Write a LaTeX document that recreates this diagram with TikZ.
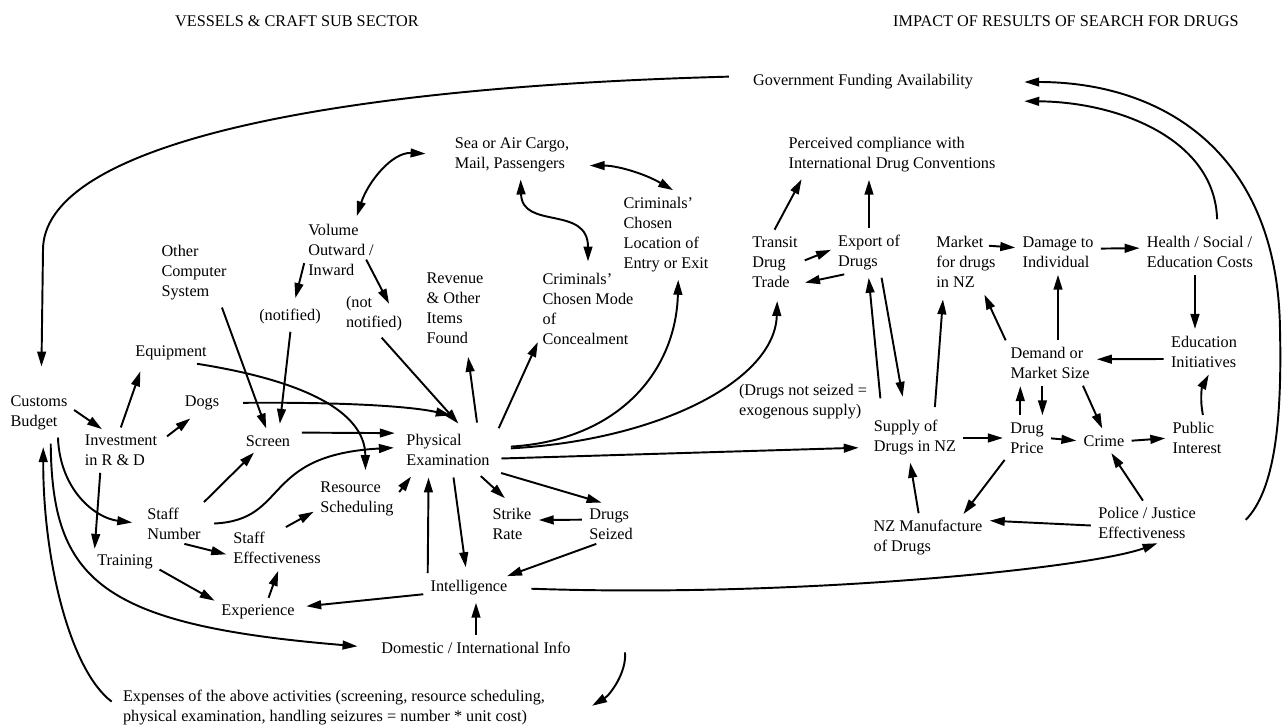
\documentclass[tikz,border=0pt]{standalone}
\usepackage{fontspec}
\setmainfont{Liberation Serif}
\usetikzlibrary{arrows.meta}
\newcommand\diafont{\fontsize{9.25}{11.4}\selectfont}
\tikzset{
    var/.style={align=left, inner sep=1.5pt, font=\diafont},
    arr/.style={-{Triangle[length=8.5pt,width=5pt]}, line width=1.1pt, shorten >=2.5pt, shorten <=2.5pt},
    dbl/.style={arr, {Triangle[length=8.5pt,width=5pt]}-{Triangle[length=8.5pt,width=5pt]}},
}
\begin{document}
\begin{tikzpicture}[x=0.02cm, y=-0.02cm]
    \useasboundingbox (0,0) rectangle (1288,726);
    \node[var] (head1) at (297,21) {VESSELS \& CRAFT SUB SECTOR};
    \node[var] (head2) at (1066,21) {IMPACT OF RESULTS OF SEARCH FOR DRUGS};
    \node[var] (gov) at (863,82) {Government Funding Availability};
    \node[var] (cargo) at (512,155) {Sea or Air Cargo,\\Mail, Passengers};
    \node[var] (perc) at (892,155) {Perceived compliance with\\International Drug Conventions};
    \node[var] (loc) at (666,235) {Criminals'\\Chosen\\Location of\\Entry or Exit};
    \node[var] (vol) at (341,250) {Volume\\Outward /\\Inward};
    \node[var] (other) at (194,273) {Other\\Computer\\System};
    \node[var] (notif) at (290,317) {(notified)};
    \node[var] (notnot) at (374,314) {(not\\notified)};
    \node[var] (rev) at (455,308) {Revenue\\\& Other\\Items\\Found};
    \node[var] (mode) at (588,309) {Criminals'\\Chosen Mode\\of\\Concealment};
    \node[var] (transit) at (775,262) {Transit\\Drug\\Trade};
    \node[var] (export) at (869,253) {Export of\\Drugs};
    \node[var] (market) at (966,262) {Market\\for drugs\\in NZ};
    \node[var] (damage) at (1058,252) {Damage to\\Individual};
    \node[var] (health) at (1200,252) {Health / Social /\\Education Costs};
    \node[var] (educ) at (1204,352) {Education\\Initiatives};
    \node[var] (demand) at (1050,363) {Demand or\\Market Size};
    \node[var] (exog) at (803,402) {(Drugs not seized =\\exogenous supply)};
    \node[var] (supply) at (915,438) {Supply of\\Drugs in NZ};
    \node[var] (price) at (1027,438) {Drug\\Price};
    \node[var] (crime) at (1104,441) {Crime};
    \node[var] (public) at (1197,438) {Public\\Interest};
    \node[var] (police) at (1147,523) {Police / Justice\\Effectiveness};
    \node[var] (manuf) at (928,538) {NZ Manufacture\\of Drugs};
    \node[var] (budget) at (39,413) {Customs\\Budget};
    \node[var] (invest) at (121,450) {Investment\\in R \& D};
    \node[var] (equip) at (171,353) {Equipment};
    \node[var] (dogs) at (202,403) {Dogs};
    \node[var] (screen) at (268,441) {Screen};
    \node[var, inner sep=4pt] (phys) at (448,450) {Physical\\Examination};
    \node[var] (resched) at (357,499) {Resource\\Scheduling};
    \node[var] (staffnum) at (174,524) {Staff\\Number};
    \node[var] (staffeff) at (277,548) {Staff\\Effectiveness};
    \node[var] (training) at (125,562) {Training};
    \node[var] (strike) at (512,524) {Strike\\Rate};
    \node[var] (seized) at (611,524) {Drugs\\Seized};
    \node[var] (intel) at (469,588) {Intelligence};
    \node[var] (exper) at (258,612) {Experience};
    \node[var] (domestic) at (476,648) {Domestic / International Info};
    \node[var] (expenses) at (334,708) {Expenses of the above activities (screening, resource scheduling,\\physical examination, handling seizures = number * unit cost)};

    \draw[arr, shorten <=12pt, shorten >=15pt] (gov.177) .. controls (300,88) and (43,150) .. (43,250) -- (budget.84);
    \draw[arr] (budget.10) -- (invest.130);
    \draw[arr, shorten >=5pt] (invest.95) -- (equip.200);
    \draw[arr, shorten <=5pt, shorten >=5pt] (invest.12) -- (dogs.245);
    \draw[arr] (invest.222) -- (training.164);
    \draw[arr, shorten >=7pt] (budget.313) .. controls (60,490) and (95,518) .. (staffnum.west);
    \draw[arr, shorten <=6pt, shorten >=12pt] (budget.300) .. controls (52,580) and (100,625) .. (domestic.west);
    \draw[arr, shorten <=6pt, shorten >=8pt] (expenses.west) .. controls (70,670) and (43,560) .. (budget.282);
    \draw[arr] (domestic.north) -- (domestic.north |- intel.south);
    \draw[arr] ([xshift=29pt]domestic.east) .. controls (627,672) and (610,695) .. ([xshift=23pt]expenses.east);
    \draw[arr] (training.350) -- (exper.167);
    \draw[arr] (exper.48) -- (staffeff.278);
    \draw[arr, shorten >=5pt] (intel.188) -- (exper.7);
    \draw[arr] (staffnum.288) -- (staffeff.189);
    \draw[arr] (staffnum.35) -- (screen.218);
    \draw[arr, shorten <=6pt, shorten >=3pt] (staffnum.east) .. controls (290,520) and (260,455) .. (phys.177);
    \draw[arr, shorten <=6pt] (screen.20) -- (phys.161);
    \draw[arr] (resched.5) -- (phys.214);
    \draw[arr] (staffeff.75) -- (resched.195);
    \draw[arr, shorten >=5pt] (equip.335) .. controls (300,380) and (365,410) .. (resched.67);
    \draw[arr, shorten <=12pt] (dogs.east) .. controls (340,402) and (410,406) .. ([shift={(4pt,6pt)}]phys.north);
    \draw[arr] (notnot.283) -- (phys.60);
    \draw[arr, shorten >=5pt] (notif.275) -- (screen.38);
    \draw[arr] (other.311) -- (screen.92);
    \draw[arr, shorten >=5pt] (vol.194) -- (notif.73);
    \draw[arr, shorten <=0pt] ([xshift=-6pt]vol.345) -- ([yshift=-8pt]notnot.50);
    \draw[dbl, shorten <=3pt, shorten >=15pt] (vol.64) .. controls (368,182) and (392,152) .. (cargo.west);
    \draw[dbl, shorten <=10pt, shorten >=5pt] (cargo.350) to[bend left=15] (loc.70);
    \draw[dbl, shorten >=5pt] (cargo.293) .. controls (522,230) and (588,205) .. (mode.north);
    \draw[arr, shorten >=6pt] (phys.38) -- (rev.287);
    \draw[arr] (phys.20) -- (mode.211);
    \draw[arr, shorten <=8pt] (phys.3) .. controls (620,440) and (676,370) .. (loc.287);
    \draw[arr, shorten <=8pt, shorten >=6pt] (phys.1) .. controls (660,440) and (775,380) .. (transit.275);
    \draw[arr, shorten >=7pt] (phys.350) -- (supply.192);
    \draw[arr, shorten >=6pt] (phys.322) -- (strike.88);
    \draw[arr, shorten >=6pt] (phys.336) -- (seized.88);
    \draw[arr, shorten >=6pt] (phys.282) -- (intel.100);
    \draw[arr] (intel.north west) -- (phys.230);
    \draw[arr] (seized.240) -- (intel.17);
    \draw[arr] (seized.170) -- (strike.10);
    \draw[arr, shorten <=12pt] (intel.east) .. controls (800,598) and (1090,568) .. (police.308);

    \draw[arr] (transit.0) -- (export.172);
    \draw[arr] (export.225) -- (transit.320);
    \draw[arr] (transit.95) -- (perc.193);
    \draw[arr] (export.north) -- (export.north |- perc.south);
    \draw[arr, shorten <=11pt] (supply.148) -- (export.268);
    \draw[arr, shorten >=12pt] (export.300) -- (supply.113);
    \draw[arr, shorten <=6pt, shorten >=5pt] (supply.47) -- (market.232);
    \draw[arr] ([xshift=-8pt]market.27) -- (damage.174);
    \draw[arr] (damage.5) -- (health.176);
    \draw[arr] (health.255) -- (health.255 |- educ.north);
    \draw[arr, shorten <=8pt] (health.47) .. controls (1215,140) and (1120,102) .. ([shift={(25pt,-5pt)}]gov.south east);
    \draw[arr] ([xshift=25pt]police.east) .. controls (1275,490) and (1282,420) .. (1280,330) .. controls (1278,150) and (1160,82) .. ([xshift=25pt]gov.east);
    \draw[arr] (damage.south |- demand.north) -- (damage.south);
    \draw[arr] (demand.north west) -- (market.300);
    \draw[arr] (educ.191) -- (demand.5);
    \draw[arr] (price.110) -- (price.110 |- demand.south);
    \draw[arr] (price.50 |- demand.south) -- (price.50);
    \draw[arr] (demand.329) -- (crime.north);
    \draw[arr] (supply.east) -- (price.west);
    \draw[arr] (price.east) -- (crime.west);
    \draw[arr] (crime.east) -- (public.west);
    \draw[arr] (public.70) to[bend left=20] (educ.290);
    \draw[arr] (police.95) -- (crime.300);
    \draw[arr] (price.south west) -- (manuf.32);
    \draw[arr] (manuf.113) -- (supply.255);
    \draw[arr] (police.183) -- (manuf.17);
\end{tikzpicture}
\end{document}
